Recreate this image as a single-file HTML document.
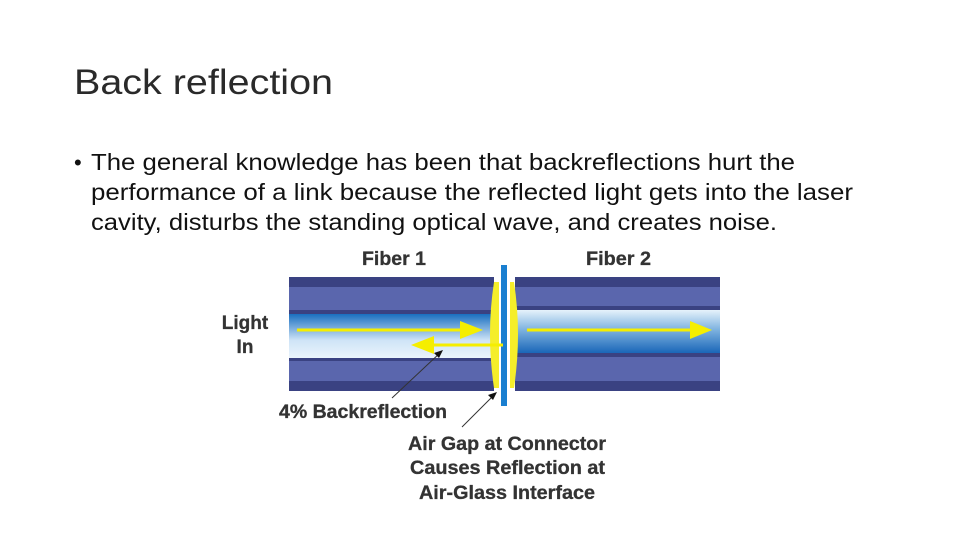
<!DOCTYPE html>
<html><head><meta charset="utf-8"><style>
html,body{margin:0;padding:0;background:#fff;}
svg{display:block;}
</style></head><body>
<svg width="960" height="540" viewBox="0 0 960 540" xmlns="http://www.w3.org/2000/svg">
<defs>
<linearGradient id="core" x1="0" y1="0" x2="0" y2="1">
<stop offset="0" stop-color="#1a6fc0"/><stop offset="0.6" stop-color="#cfe4f7"/><stop offset="1" stop-color="#eaf4fc"/>
</linearGradient>
<linearGradient id="core2" x1="0" y1="0" x2="0" y2="1">
<stop offset="0" stop-color="#e6f2fb"/><stop offset="0.45" stop-color="#7fb3e0"/><stop offset="1" stop-color="#1a66b8"/>
</linearGradient>
</defs>
<g font-family="'Liberation Sans', sans-serif" fill="#111">
<text x="74" y="94" font-size="35" textLength="259" lengthAdjust="spacingAndGlyphs" fill="#2a2a2a">Back reflection</text>
<text x="74" y="170" font-size="22">•</text>
<text x="91" y="170" font-size="23" textLength="704" lengthAdjust="spacingAndGlyphs">The general knowledge has been that backreflections hurt the</text>
<text x="91" y="200" font-size="23" textLength="762" lengthAdjust="spacingAndGlyphs">performance of a link because the reflected light gets into the laser</text>
<text x="91" y="230" font-size="23" textLength="686" lengthAdjust="spacingAndGlyphs">cavity, disturbs the standing optical wave, and creates noise.</text>
</g>
<!-- fiber 1 -->
<rect x="289" y="277" width="205" height="114" fill="#5a66ad"/>
<rect x="289" y="277" width="205" height="10" fill="#3a4282"/>
<rect x="289" y="381" width="205" height="10" fill="#3a4282"/>
<rect x="289" y="310" width="205" height="4" fill="#3a4282"/>
<rect x="289" y="357" width="205" height="4" fill="#3a4282"/>
<rect x="289" y="314" width="205" height="44" fill="url(#core)"/>
<!-- fiber 2 -->
<rect x="515" y="277" width="205" height="114" fill="#5a66ad"/>
<rect x="515" y="277" width="205" height="10" fill="#3a4282"/>
<rect x="515" y="381" width="205" height="10" fill="#3a4282"/>
<rect x="515" y="306" width="205" height="4" fill="#3a4282"/>
<rect x="515" y="353" width="205" height="4" fill="#3a4282"/>
<rect x="515" y="310" width="205" height="43" fill="url(#core2)"/>
<!-- yellow lenses -->
<path d="M494 282 Q486 334 494 388 L499 388 L499 282 Z" fill="#f5ee2a"/>
<path d="M514 282 Q522 334 514 388 L510 388 L510 282 Z" fill="#f5ee2a"/>
<!-- blue bar -->
<rect x="501" y="265" width="6" height="141" fill="#1a7fd0"/>
<!-- arrows -->
<g fill="#f5ee00" stroke="none">
<rect x="297" y="328.5" width="166" height="3"/>
<polygon points="460,321 483,330 460,339"/>
<rect x="432" y="343.5" width="71" height="3"/>
<polygon points="434,336 411,345 434,354"/>
<rect x="527" y="328.5" width="165" height="3"/>
<polygon points="690,321 712,330 690,339"/>
</g>
<!-- leader lines -->
<line x1="392" y1="398" x2="441" y2="352" stroke="#333" stroke-width="1"/>
<polygon points="443,350 434,353 439,358" fill="#111"/>
<line x1="462" y1="427" x2="495" y2="394" stroke="#333" stroke-width="1"/>
<polygon points="497,392 488,395 493,400" fill="#111"/>
<g font-family="'Liberation Sans', sans-serif" font-weight="bold" font-size="19" fill="#333" stroke="#333" stroke-width="0.3">
<text x="362" y="265" textLength="64" lengthAdjust="spacingAndGlyphs">Fiber 1</text>
<text x="586" y="265" textLength="65" lengthAdjust="spacingAndGlyphs">Fiber 2</text>
<text x="245" y="329" text-anchor="middle">Light</text>
<text x="245" y="353" text-anchor="middle">In</text>
<text x="279" y="418" textLength="168" lengthAdjust="spacingAndGlyphs">4% Backreflection</text>
<text x="408" y="450" textLength="198" lengthAdjust="spacingAndGlyphs">Air Gap at Connector</text>
<text x="410" y="474" textLength="195" lengthAdjust="spacingAndGlyphs">Causes Reflection at</text>
<text x="419" y="499" textLength="176" lengthAdjust="spacingAndGlyphs">Air-Glass Interface</text>
</g>
</svg>
</body></html>
